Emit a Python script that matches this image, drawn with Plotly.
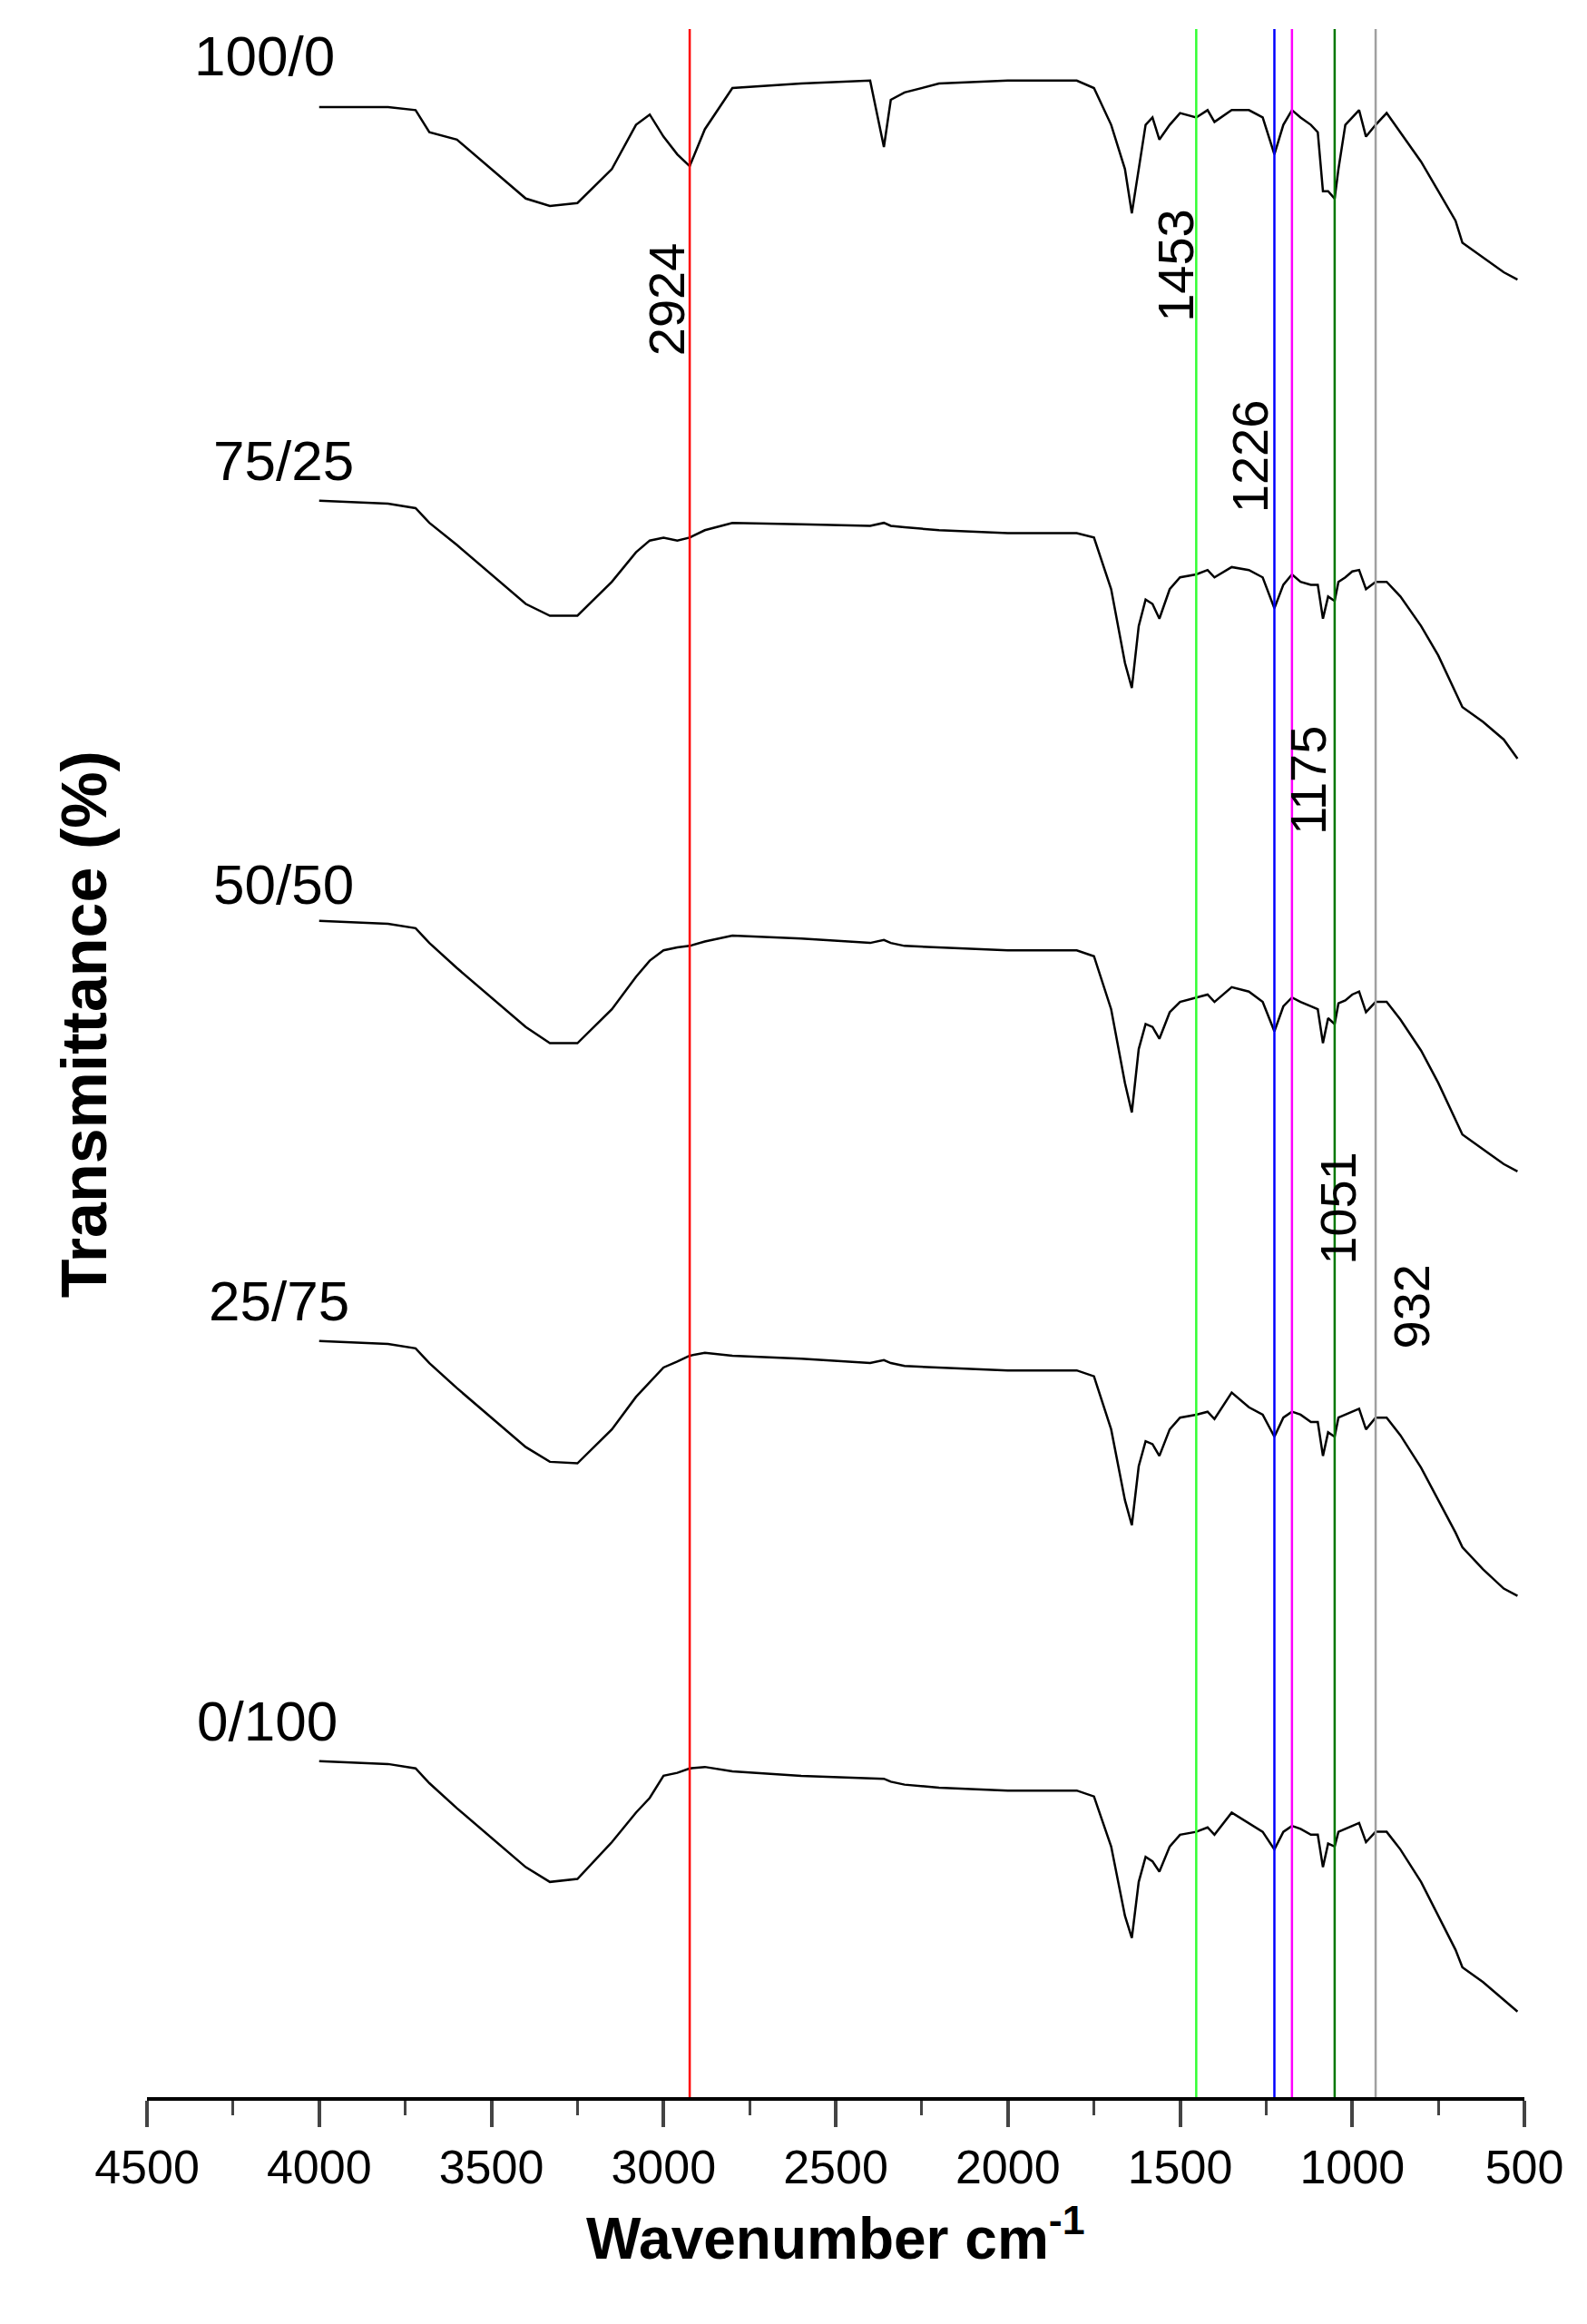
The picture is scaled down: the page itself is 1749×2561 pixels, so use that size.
import plotly.graph_objects as go

wn = [4000,3800,3720,3680,3600,3500,3400,3330,3250,3150,3080,3040,3000,2960,2924,2880,2800,2600,2400,2360,2340,2300,2200,2000,1800,1750,1700,1660,1640,1620,1600,1580,1560,1530,1500,1453,1420,1400,1350,1300,1260,1226,1200,1175,1150,1120,1100,1085,1070,1051,1040,1020,1000,980,960,932,900,860,800,750,700,680,620,560,520]

names = ["100/0", "75/25", "50/50", "25/75", "0/100"]
baselines = [68, 335, 620, 905, 1190]

s1 = [0,0,2,17,22,42,62,67,65,42,12,5,20,32,40,15,-13,-16,-18,27,-5,-10,-16,-18,-18,-13,12,42,72,42,12,7,22,12,4,7,2,10,2,2,7,32,12,2,7,12,17,57,57,62,42,12,7,2,20,12,4,17,37,57,77,92,102,112,117]
s2 = [0,2,5,15,30,50,70,78,78,55,35,27,25,27,25,20,15,16,17,15,17,18,20,22,22,25,60,110,127,85,67,70,80,60,52,50,47,52,45,47,52,73,57,50,55,57,57,80,65,68,55,52,48,47,60,55,55,65,85,105,130,140,150,162,175]
s3 = [0,2,5,15,32,52,72,83,83,60,38,27,20,18,17,14,10,12,15,13,15,17,18,20,20,24,60,110,130,87,70,72,80,62,55,52,50,55,45,48,55,75,58,52,55,58,60,83,66,70,56,54,50,48,62,55,55,67,88,110,135,145,155,165,170]
s4 = [0,2,5,15,32,52,72,82,83,60,38,28,18,14,10,8,10,12,15,13,15,17,18,20,20,24,60,108,125,85,68,70,78,60,52,50,48,53,35,45,50,65,52,48,50,55,55,78,62,65,52,50,48,46,60,52,52,64,86,108,130,140,155,168,173]
s5 = [0,2,5,15,32,52,72,82,80,55,35,25,10,8,5,4,7,10,12,12,14,16,18,20,20,24,58,105,120,82,65,68,75,58,50,48,45,50,35,42,48,60,48,44,46,50,50,72,56,58,48,46,44,42,55,48,48,60,82,105,128,140,150,162,170]
spectra = [s1, s2, s3, s4, s5]

label_x = [4158, 4103, 4103, 4116, 4150]
label_y = [33, 308, 595, 878, 1163]

peaks = [2924, 1453, 1226, 1175, 1051, 932]
peak_colors = ["#ff0000", "#33ff33", "#0000ff", "#ff00ff", "#007700", "#a0a0a0"]
peak_label_x = [2993, 1512, 1298, 1128, 1042, 829]
peak_label_y = [198, 175, 305, 525, 815, 882]

fig = go.Figure()
for name, base, s in zip(names, baselines, spectra):
    fig.add_trace(go.Scatter(x=wn, y=[-(base + v) for v in s], mode="lines",
                             line=dict(color="black", width=2.5), name=name, showlegend=False))

for p, c in zip(peaks, peak_colors):
    fig.add_shape(type="line", x0=p, x1=p, y0=0, y1=1, yref="paper", xref="x",
                  line=dict(color=c, width=2.5))

ann = []
for n, x, y in zip(names, label_x, label_y):
    ann.append(dict(x=x, y=-y, text=n, showarrow=False, font=dict(size=62, color="black")))
for p, x, y in zip(peaks, peak_label_x, peak_label_y):
    ann.append(dict(x=x, y=-y, text=str(p), showarrow=False, textangle=-90,
                    font=dict(size=56, color="black")))
ann.append(dict(xref="paper", yref="y", x=-0.072, y=-690, text="<b>Transmittance (%)</b>",
                textangle=-90, showarrow=False, font=dict(size=70, color="black")))
ann.append(dict(xref="paper", yref="paper", x=0.5, y=-0.085, text="<b>Wavenumber cm<sup>-1</sup></b>",
                showarrow=False, font=dict(size=64, color="black")))

fig.update_layout(
    width=1749, height=2561, plot_bgcolor="white", paper_bgcolor="white",
    margin=dict(l=154, r=77, t=24, b=258),
    font=dict(family="Liberation Sans, Arial", color="black"),
    annotations=ann,
    xaxis=dict(range=[4500, 500], tickvals=[4500,4000,3500,3000,2500,2000,1500,1000,500],
               ticks="outside", ticklen=29, tickwidth=4, showline=True, linewidth=4,
               linecolor="black", showgrid=False, zeroline=False,
               tickfont=dict(size=52),
               minor=dict(dtick=250, ticks="outside", ticklen=16, tickwidth=3, showgrid=False)),
    yaxis=dict(range=[-1418, -15], showticklabels=False, showgrid=False, zeroline=False,
               showline=False, ticks=""),
)
fig.write_html("out.html")
